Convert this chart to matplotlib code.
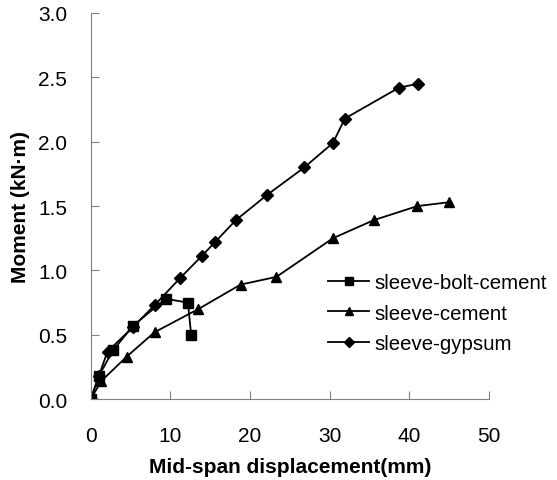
import matplotlib.pyplot as plt

plt.rcParams['font.family'] = ['Liberation Sans', 'DejaVu Sans']

# sleeve-bolt-cement
x_sbc = [0, 1.0, 2.8, 5.3, 9.4, 12.2, 12.6]
y_sbc = [0, 0.18, 0.38, 0.57, 0.78, 0.75, 0.50]

# sleeve-cement
x_sc = [0, 1.3, 4.5, 8.0, 13.5, 18.8, 23.3, 30.4, 35.5, 41.0, 45.0]
y_sc = [0, 0.14, 0.33, 0.52, 0.70, 0.89, 0.95, 1.25, 1.39, 1.50, 1.53]

# sleeve-gypsum
x_sg = [0, 1.0, 2.1, 5.3, 8.0, 11.2, 13.9, 15.6, 18.2, 22.1, 26.8, 30.4, 31.9, 38.7, 41.1]
y_sg = [0, 0.18, 0.37, 0.56, 0.73, 0.94, 1.11, 1.22, 1.39, 1.585, 1.80, 1.99, 2.18, 2.42, 2.45]

labels = ['sleeve-bolt-cement', 'sleeve-cement', 'sleeve-gypsum']

fig = plt.figure(figsize=(5.57, 4.81), dpi=100)
ax = fig.add_axes([0.163, 0.168, 0.715, 0.803])

ax.plot(x_sbc, y_sbc, '-ks', lw=1.3, ms=7, label=labels[0])
ax.plot(x_sc, y_sc, '-k^', lw=1.3, ms=7, label=labels[1])
ax.plot(x_sg, y_sg, '-kD', lw=1.3, ms=6.5, label=labels[2])

ax.set_xlim(0, 50)
ax.set_ylim(0, 3.0)
ax.set_xticks(range(0, 51, 10))
ax.set_yticks([0, 0.5, 1.0, 1.5, 2.0, 2.5, 3.0])
ax.set_yticklabels(['0.0', '0.5', '1.0', '1.5', '2.0', '2.5', '3.0'])

for s in ['top', 'right']:
    ax.spines[s].set_visible(False)
for s in ['left', 'bottom']:
    ax.spines[s].set_color('#808080')
ax.tick_params(direction='in', length=6, color='#808080', labelsize=15)
ax.tick_params(axis='x', pad=19)
ax.tick_params(axis='y', pad=17)

ax.set_xlabel('Mid-span displacement(mm)', fontsize=15, fontweight='bold', labelpad=9)
ax.set_ylabel('Moment (kN·m)', fontsize=15, fontweight='bold', labelpad=6)

ax.legend(loc='upper left', bbox_to_anchor=(0.55, 0.375), frameon=False, fontsize=14.7,
          handlelength=2.0, handletextpad=0.25, labelspacing=0.58, markerscale=0.8)

fig.savefig('out.png', dpi=100)
